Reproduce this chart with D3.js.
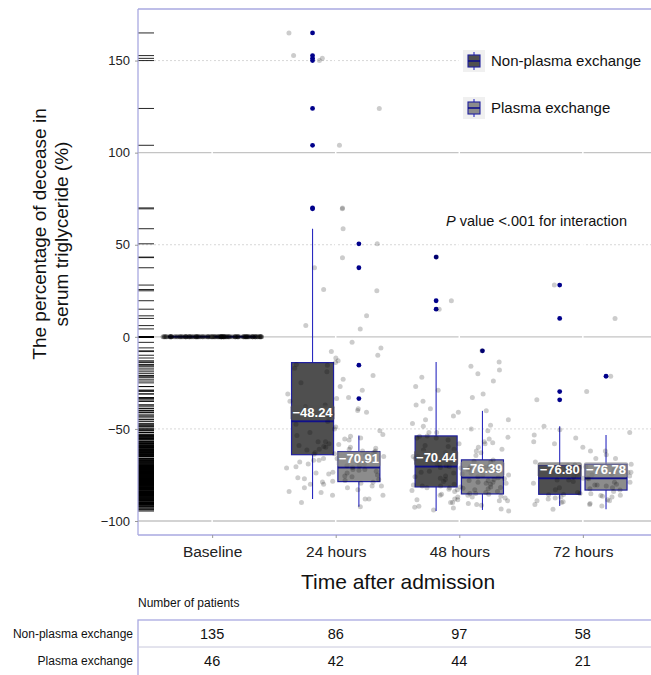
<!DOCTYPE html>
<html>
<head>
<meta charset="utf-8">
<script src="https://cdn.jsdelivr.net/npm/d3@7/dist/d3.min.js"></script>
<style>
  body { margin: 0; background: #fff; }
  svg { font-family: "Liberation Sans", Arial, sans-serif; display: block; }
</style>
</head>
<body>
<svg id="chart" width="651" height="675"></svg>
<script>
// categories
var times = ["Baseline", "24 hours", "48 hours", "72 hours"];
var groups = ["Non-plasma exchange", "Plasma exchange"];

// number of patients (table under the chart)
var nonPlasmaN = [135, 86, 97, 58];
var plasmaN = [46, 42, 44, 21];

// box summaries (baseline collapses to 0)
var nonPlasmaLow = [0, -88, -94.6, -91.8];
var nonPlasmaQ1 = [0, -64, -81.5, -85.5];
var nonPlasmaMedian = [0, -45.8, -70.44, -76.8];
var nonPlasmaQ3 = [0, -14, -53.8, -69.9];
var nonPlasmaHigh = [0, 58.7, -13.6, -48.5];
var nonPlasmaLabels = [null, "\u221248.24", "\u221270.44", "\u221276.80"];

var plasmaLow = [0, -92.2, -94, -93.6];
var plasmaQ1 = [0, -78.6, -85.3, -83.2];
var plasmaMedian = [0, -70.91, -76.39, -76.78];
var plasmaQ3 = [0, -62.3, -66.8, -69.2];
var plasmaHigh = [0, -53.6, -40.2, -53.3];
var plasmaLabels = [null, "\u221270.91", "\u221276.39", "\u221276.78"];

// individual patients, % decrease at each time
var nonPlasma24 = [165, 152.7, 151.2, 150, 124, 104, 70, 69.5, 58.7, 43, 25.7, 25, 11.4, 6.1, 4.3, -3, -6, -8, -10, -11.5, -13, -14,
  -15, -17, -19, -21, -23, -25, -27, -29, -31, -33, -35, -37, -38, -39, -40, -41, -42, -43, -44, -46, -47.5,
  -49, -50, -51, -52, -53, -54, -55, -56, -57, -58, -59, -59.5, -60, -60.5, -61, -61.5, -62, -62.5, -63, -63.5, -63.8,
  -64.2, -65, -66, -67, -68, -69, -70, -71, -72, -73, -74, -75, -76, -77, -78, -79, -80, -81, -82, -84, -86, -88];
var plasma24 = [50.5, 37.5, -15.4, -33.5, -53.6, -55.5, -57, -58.5, -60, -61, -62,
  -62.8, -63.5, -64.5, -65, -66, -67, -68, -69, -70, -70.6,
  -71.2, -72, -72.5, -73.5, -74, -74.5, -75.5, -76.5, -77.5, -78.4,
  -78.8, -79.5, -80, -81, -82, -83, -84.5, -86, -88, -90, -92.2];
var nonPlasma48 = [43.3, 19.6, 15, -13.6, -16, -18, -20, -22, -24, -27, -29, -31, -33, -35, -37, -39, -41, -43, -45, -47, -48.5, -50, -51, -52,
  -53.8,
  -54, -54.5, -55, -55.5, -56, -57, -57.5, -58, -59, -59.5, -60, -61, -61.5, -62, -63, -64, -64.5, -65, -66, -67, -68, -69, -70,
  -70.44,
  -70.6, -70.9, -71.2, -71.5, -72, -72.5, -73, -73.5, -74, -74.5, -75, -75.5, -76, -76.5, -77, -77.5, -78, -78.5, -79, -79.5, -80, -80.5, -81,
  -81.5,
  -81.6, -81.8, -82, -82.2, -82.5, -82.8, -83, -83.5, -84, -84.5, -85, -85.5, -86, -86.5, -87, -88, -88.5, -89, -90, -90.5, -91.5, -92.5, -93.5, -94.6];
var plasma48 = [-7.6, -40.2, -45, -48, -52, -55, -58, -61, -63, -65, -66.5,
  -66.9, -67.5, -68, -69, -70, -71, -72, -73, -74, -75, -76,
  -76.8, -77.5, -78, -79, -79.5, -80, -81, -82, -83, -84, -85,
  -85.5, -86, -87, -87.5, -88.5, -89, -90, -91, -92, -93, -94];
var nonPlasma72 = [28.1, 10, -29.7, -34.2, -48.5, -50.5, -52, -55, -57, -60, -62, -64, -66, -68, -69.6,
  -70, -70.5, -71, -71.5, -72, -72.5, -73, -73.5, -74, -74.5, -75, -75.5, -76, -76.6,
  -77, -77.8, -78.5, -79, -79.5, -80, -80.5, -81, -82, -82.5, -83, -84, -84.5, -85.2,
  -85.6, -85.8, -86, -86.2, -86.5, -87, -87.5, -88, -88.5, -89, -89.5, -90, -90.5, -91, -91.8];
var plasma72 = [-21.4, -53.3, -58, -62, -66, -69.2, -70.5, -72, -73.5, -75, -76.78, -77.8, -79, -80.5, -82, -83.2,
  -85, -87, -89, -91, -93.6];

(function () {
  var svg = d3.select("#chart");
  var left = 138, top = 9, bottom = 535, right = 657;
  var navy = "#1f1f9e";
  var fills = { "Non-plasma exchange": "#4f4f4f", "Plasma exchange": "#8c8c8c" };

  var y = d3.scaleLinear().domain([-107.6, 178]).range([bottom, top]);
  var x = d3.scalePoint().domain(times).range([left, right]).padding(0.6);
  var step = x.step();
  var dodge = d3.scaleBand().domain(groups).range([-step * 0.375, step * 0.375]);
  var boxW = 42;

  // baseline has every patient at 0
  var baseNon = new Array(nonPlasmaN[0]).fill(0);
  var basePl = new Array(plasmaN[0]).fill(0);
  var values = {
    "Non-plasma exchange": [baseNon, nonPlasma24, nonPlasma48, nonPlasma72],
    "Plasma exchange": [basePl, plasma24, plasma48, plasma72]
  };

  var boxes = [];
  times.forEach(function (t, i) {
    boxes.push({ time: t, group: groups[0], lo: nonPlasmaLow[i], q1: nonPlasmaQ1[i], med: nonPlasmaMedian[i],
      q3: nonPlasmaQ3[i], hi: nonPlasmaHigh[i], label: nonPlasmaLabels[i], vals: values[groups[0]][i] });
    boxes.push({ time: t, group: groups[1], lo: plasmaLow[i], q1: plasmaQ1[i], med: plasmaMedian[i],
      q3: plasmaQ3[i], hi: plasmaHigh[i], label: plasmaLabels[i], vals: values[groups[1]][i] });
  });
  boxes.forEach(function (b) {
    b.cx = x(b.time) + dodge(b.group) + dodge.bandwidth() / 2;
    b.outliers = b.vals.filter(function (v) { return v > b.hi || v < b.lo; });
  });

  svg.append("clipPath").attr("id", "panel")
    .append("rect").attr("x", left).attr("y", top).attr("width", right - left).attr("height", bottom - top);
  var panel = svg.append("g").attr("clip-path", "url(#panel)");

  // grid
  panel.selectAll(".gmaj").data([-100, 0, 100]).enter().append("line")
    .attr("x1", left).attr("x2", right)
    .attr("y1", function (d) { return y(d); }).attr("y2", function (d) { return y(d); })
    .attr("stroke", "#c4c4c4").attr("stroke-width", 1.3);
  panel.selectAll(".gmin").data([-50, 50, 150]).enter().append("line")
    .attr("x1", left).attr("x2", right)
    .attr("y1", function (d) { return y(d); }).attr("y2", function (d) { return y(d); })
    .attr("stroke", "#d2d2d2").attr("stroke-width", 0.9).attr("stroke-dasharray", "2,2");
  panel.selectAll(".gx").data(times).enter().append("line")
    .attr("x1", function (d) { return x(d); }).attr("x2", function (d) { return x(d); })
    .attr("y1", top).attr("y2", bottom)
    .attr("stroke", "#fff").attr("stroke-width", 1.5);

  // boxes
  var bg = panel.selectAll(".box").data(boxes).enter().append("g").attr("class", "box");
  bg.append("line")
    .attr("x1", function (d) { return d.cx; }).attr("x2", function (d) { return d.cx; })
    .attr("y1", function (d) { return y(d.lo); }).attr("y2", function (d) { return y(d.hi); })
    .attr("stroke", "#2a2ac0").attr("stroke-width", 1.1);
  bg.append("rect")
    .attr("x", function (d) { return d.cx - boxW / 2; }).attr("width", boxW)
    .attr("y", function (d) { return y(d.q3); })
    .attr("height", function (d) { return y(d.q1) - y(d.q3); })
    .attr("fill", function (d) { return fills[d.group]; })
    .attr("stroke", navy).attr("stroke-width", 1.2);
  bg.append("line")
    .attr("x1", function (d) { return d.cx - boxW / 2; }).attr("x2", function (d) { return d.cx + boxW / 2; })
    .attr("y1", function (d) { return y(d.med); }).attr("y2", function (d) { return y(d.med); })
    .attr("stroke", "#10108a").attr("stroke-width", 2);
  bg.selectAll(".out").data(function (d) {
    return d.outliers.map(function (v) { return { cx: d.cx, v: v }; });
  }).enter().append("circle")
    .attr("cx", function (d) { return d.cx; }).attr("cy", function (d) { return y(d.v); })
    .attr("r", 2.4).attr("fill", "#00008b");

  // jittered patients (both groups spread over the whole category)
  function jit(i, k) {
    var s = Math.sin(i * 12.9898 + k * 78.233) * 43758.5453;
    return s - Math.floor(s);
  }
  var pts = [];
  groups.forEach(function (g, gi) {
    times.forEach(function (t, ti) {
      values[g][ti].forEach(function (v, i) {
        pts.push({ x: x(t) + (jit(i, gi * 7 + ti + 1) - 0.5) * step * 0.8, v: v });
      });
    });
  });
  panel.selectAll(".pt").data(pts).enter().append("circle")
    .attr("cx", function (d) { return d.x; }).attr("cy", function (d) { return y(d.v); })
    .attr("r", 2.5).attr("fill", "#000").attr("fill-opacity", 0.2);

  // rug
  panel.selectAll(".rug").data(pts).enter().append("line")
    .attr("x1", left).attr("x2", left + 16)
    .attr("y1", function (d) { return y(d.v); }).attr("y2", function (d) { return y(d.v); })
    .attr("stroke", "#000").attr("stroke-width", 1).attr("stroke-opacity", 0.85);

  // median labels
  var lab = panel.selectAll(".lab").data(boxes.filter(function (d) { return d.label; })).enter().append("g");
  lab.append("text")
    .attr("x", function (d) { return d.cx; }).attr("y", function (d) { return y(d.med) - 4.5; })
    .attr("text-anchor", "middle").attr("font-size", 13).attr("font-weight", "bold")
    .attr("fill", "#fff").text(function (d) { return d.label; })
    .each(function (d) { d.tw = this.getComputedTextLength(); });
  lab.insert("rect", "text")
    .attr("x", function (d) { return d.cx - d.tw / 2 - 2; }).attr("width", function (d) { return d.tw + 4; })
    .attr("y", function (d) { return y(d.med) - 16; }).attr("height", 15).attr("rx", 2)
    .attr("fill", function (d) { return fills[d.group]; }).attr("fill-opacity", 0.6);

  // frame
  var frame = "#a9a9e0";
  svg.append("line").attr("x1", left).attr("x2", left).attr("y1", top).attr("y2", bottom)
    .attr("stroke", frame).attr("stroke-width", 1.3);
  svg.append("line").attr("x1", left).attr("x2", 651).attr("y1", top).attr("y2", top)
    .attr("stroke", frame).attr("stroke-width", 1.3);
  svg.append("line").attr("x1", left).attr("x2", 651).attr("y1", bottom).attr("y2", bottom)
    .attr("stroke", frame).attr("stroke-width", 1.3);

  // axes
  var yAxis = svg.append("g").attr("transform", "translate(" + left + ",0)")
    .call(d3.axisLeft(y).tickValues([-100, -50, 0, 50, 100, 150]).tickSize(3).tickPadding(5)
      .tickFormat(function (d) { return d < 0 ? "\u2212" + Math.abs(d) : d; }));
  yAxis.select(".domain").remove();
  yAxis.selectAll("line").attr("stroke", "#999");
  yAxis.selectAll("text").attr("font-size", 13).attr("fill", "#222").attr("font-family", null);

  var xAxis = svg.append("g").attr("transform", "translate(0," + bottom + ")")
    .call(d3.axisBottom(x).tickSize(3).tickPadding(8));
  xAxis.select(".domain").remove();
  xAxis.selectAll("line").attr("stroke", "#999");
  xAxis.selectAll("text").attr("font-size", 15.5).attr("fill", "#222").attr("font-family", null);

  svg.append("text").attr("x", 398).attr("y", 589).attr("text-anchor", "middle")
    .attr("font-size", 21).attr("fill", "#111").text("Time after admission");
  var yt = svg.append("text").attr("transform", "translate(46,234) rotate(-90)")
    .attr("text-anchor", "middle").attr("font-size", 19).attr("fill", "#111");
  yt.append("tspan").attr("x", 0).attr("dy", 0).text("The percentage of decease in");
  yt.append("tspan").attr("x", 0).attr("dy", 22).text("serum triglyceride (%)");

  // annotation
  var ann = svg.append("text").attr("x", 446).attr("y", 226).attr("font-size", 14.5).attr("fill", "#111");
  ann.append("tspan").attr("font-style", "italic").text("P");
  ann.append("tspan").text(" value <.001 for interaction");

  // legend
  var leg = svg.append("g");
  leg.append("rect").attr("x", 462).attr("y", 44).attr("width", 189).attr("height", 82).attr("fill", "#fff");
  groups.forEach(function (g, i) {
    var cy = 61 + i * 47, cx = 474;
    leg.append("rect").attr("x", cx - 11).attr("y", cy - 11).attr("width", 22).attr("height", 22).attr("fill", "#f0f0f0");
    leg.append("line").attr("x1", cx).attr("x2", cx).attr("y1", cy - 9).attr("y2", cy + 9)
      .attr("stroke", "#2a2ac0").attr("stroke-width", 1.1);
    leg.append("rect").attr("x", cx - 6).attr("y", cy - 6).attr("width", 12).attr("height", 12)
      .attr("fill", fills[g]).attr("stroke", navy).attr("stroke-width", 1.1);
    leg.append("line").attr("x1", cx - 6).attr("x2", cx + 6).attr("y1", cy).attr("y2", cy)
      .attr("stroke", "#10108a").attr("stroke-width", 1.6);
    leg.append("text").attr("x", 491).attr("y", cy + 5).attr("font-size", 15).attr("fill", "#111").text(g);
  });

  // patient table
  svg.append("text").attr("x", left).attr("y", 607).attr("font-size", 12).attr("fill", "#111").text("Number of patients");
  svg.append("rect").attr("x", left).attr("y", 620).attr("width", 600).attr("height", 80)
    .attr("fill", "none").attr("stroke", frame).attr("stroke-width", 1.3);
  svg.append("line").attr("x1", left).attr("x2", 651).attr("y1", 647).attr("y2", 647)
    .attr("stroke", "#c8c8dc").attr("stroke-width", 1);
  var rows = [nonPlasmaN, plasmaN];
  rows.forEach(function (row, r) {
    var ry = 638 + r * 27;
    svg.append("text").attr("x", 133).attr("y", ry).attr("text-anchor", "end")
      .attr("font-size", 12).attr("fill", "#111").text(groups[r]);
    svg.selectAll(".cell" + r).data(row).enter().append("text")
      .attr("x", function (d, i) { return x(times[i]); }).attr("y", ry + 1)
      .attr("text-anchor", "middle").attr("font-size", 14.5).attr("fill", "#111")
      .text(function (d) { return d; });
  });
})();
</script>
</body>
</html>
